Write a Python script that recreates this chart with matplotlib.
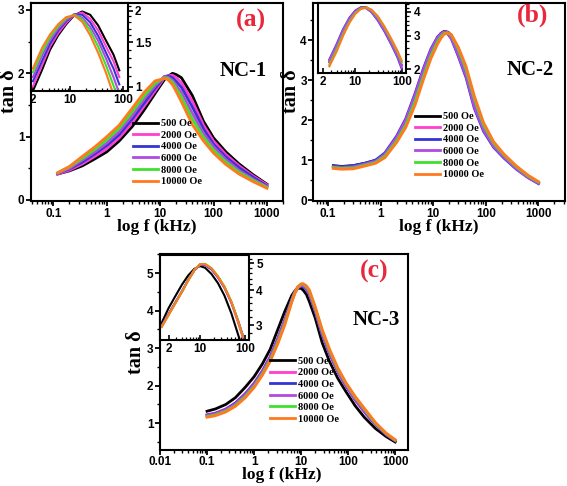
import numpy as np
import matplotlib
matplotlib.use("Agg")
import matplotlib.pyplot as plt
from matplotlib.ticker import LogLocator, MultipleLocator, NullFormatter

W, H = 567, 486
SERIF = "Liberation Serif"
plt.rcParams.update({
    "font.family": "Liberation Sans",
    "font.weight": "bold",
    "axes.linewidth": 1.5,
})

FIELDS = ["500 Oe", "2000 Oe", "4000 Oe", "6000 Oe", "8000 Oe", "10000 Oe"]
COLORS = ["#000000", "#ff3fcf", "#3434d2", "#b04ae0", "#3fe02c", "#ff7a1e"]

# ---- NC-1 (a) -------------------------------------------------------
F_A = [0.12, 0.2, 0.35, 0.6, 1, 1.7, 3, 5, 8, 12, 14, 17, 20, 25, 40, 65, 100, 170, 300, 550, 1000]
TAN_A = [
    [0.41, 0.46, 0.54, 0.65, 0.76, 0.93, 1.16, 1.42, 1.68, 1.90, 1.95, 2.00, 1.98, 1.93, 1.65, 1.24, 0.98, 0.76, 0.57, 0.40, 0.25],
    [0.41, 0.47, 0.57, 0.69, 0.81, 0.98, 1.22, 1.48, 1.72, 1.93, 1.96, 1.97, 1.93, 1.85, 1.56, 1.18, 0.93, 0.72, 0.54, 0.38, 0.24],
    [0.42, 0.49, 0.60, 0.73, 0.86, 1.03, 1.28, 1.53, 1.76, 1.95, 1.96, 1.93, 1.87, 1.78, 1.47, 1.12, 0.88, 0.68, 0.51, 0.36, 0.22],
    [0.42, 0.50, 0.63, 0.76, 0.90, 1.08, 1.33, 1.59, 1.80, 1.95, 1.94, 1.89, 1.81, 1.70, 1.37, 1.05, 0.84, 0.64, 0.47, 0.33, 0.21],
    [0.43, 0.52, 0.66, 0.80, 0.95, 1.13, 1.39, 1.64, 1.84, 1.93, 1.92, 1.86, 1.76, 1.63, 1.28, 0.99, 0.79, 0.60, 0.44, 0.31, 0.20],
    [0.43, 0.53, 0.69, 0.84, 1.00, 1.18, 1.45, 1.70, 1.88, 1.92, 1.90, 1.82, 1.71, 1.55, 1.19, 0.93, 0.74, 0.56, 0.41, 0.29, 0.185],
]
F_A_IN = [2, 3, 4.2, 6, 8.5, 12, 17, 24, 34, 48, 66, 85]
TAN_A_IN = [
    [0.96, 1.17, 1.40, 1.60, 1.77, 1.92, 1.99, 1.93, 1.75, 1.52, 1.34, 1.16],
    [1.00, 1.22, 1.44, 1.63, 1.79, 1.93, 1.97, 1.86, 1.67, 1.44, 1.26, 1.09],
    [1.05, 1.27, 1.48, 1.67, 1.82, 1.94, 1.93, 1.80, 1.59, 1.36, 1.18, 1.02],
    [1.09, 1.33, 1.53, 1.70, 1.84, 1.94, 1.88, 1.73, 1.52, 1.29, 1.09, 0.94],
    [1.14, 1.38, 1.57, 1.74, 1.87, 1.93, 1.85, 1.67, 1.44, 1.21, 1.01, 0.87],
    [1.18, 1.43, 1.61, 1.77, 1.89, 1.92, 1.81, 1.60, 1.36, 1.13, 0.93, 0.80],
]

# ---- NC-2 (b) -------------------------------------------------------
F_B = [0.125, 0.18, 0.3, 0.5, 0.8, 1.2, 2, 3, 4.5, 6.5, 9, 12, 14, 16, 19, 22, 30, 42, 60, 90, 140, 220, 380, 650, 1000]
TAN_B = [
    [0.86, 0.84, 0.86, 0.92, 0.99, 1.15, 1.55, 1.97, 2.58, 3.22, 3.72, 4.05, 4.17, 4.22, 4.20, 4.12, 3.72, 3.20, 2.45, 1.82, 1.38, 1.10, 0.80, 0.57, 0.43],
    [0.84, 0.82, 0.84, 0.90, 0.97, 1.14, 1.54, 1.96, 2.57, 3.21, 3.71, 4.04, 4.16, 4.21, 4.19, 4.11, 3.71, 3.19, 2.44, 1.82, 1.38, 1.10, 0.80, 0.57, 0.43],
    [0.85, 0.83, 0.86, 0.92, 1.00, 1.18, 1.60, 2.04, 2.67, 3.30, 3.78, 4.08, 4.17, 4.20, 4.15, 4.04, 3.59, 3.06, 2.30, 1.72, 1.32, 1.05, 0.77, 0.55, 0.41],
    [0.83, 0.81, 0.83, 0.90, 0.97, 1.15, 1.57, 2.01, 2.63, 3.26, 3.75, 4.06, 4.16, 4.20, 4.16, 4.05, 3.62, 3.10, 2.34, 1.75, 1.34, 1.07, 0.78, 0.55, 0.42],
    [0.81, 0.79, 0.80, 0.87, 0.94, 1.10, 1.48, 1.88, 2.47, 3.10, 3.61, 3.96, 4.09, 4.17, 4.18, 4.13, 3.77, 3.27, 2.54, 1.88, 1.42, 1.13, 0.83, 0.59, 0.45],
    [0.79, 0.77, 0.78, 0.85, 0.92, 1.06, 1.44, 1.82, 2.38, 3.02, 3.54, 3.90, 4.05, 4.15, 4.17, 4.14, 3.82, 3.34, 2.61, 1.94, 1.46, 1.15, 0.85, 0.61, 0.46],
]
F_B_IN = [2.8, 4, 5.5, 7.5, 10, 13, 17, 22, 30, 42, 60, 80, 98]
TAN_B_IN = [
    [2.18, 2.62, 3.15, 3.65, 4.02, 4.22, 4.24, 4.08, 3.72, 3.25, 2.75, 2.38, 2.10],
    [2.17, 2.61, 3.14, 3.64, 4.01, 4.21, 4.23, 4.07, 3.71, 3.24, 2.74, 2.37, 2.09],
    [2.25, 2.71, 3.25, 3.73, 4.07, 4.22, 4.19, 4.00, 3.62, 3.16, 2.67, 2.30, 2.01],
    [2.23, 2.68, 3.22, 3.70, 4.05, 4.21, 4.20, 4.02, 3.65, 3.19, 2.69, 2.33, 2.04],
    [2.11, 2.54, 3.06, 3.56, 3.95, 4.17, 4.22, 4.10, 3.77, 3.32, 2.82, 2.45, 2.18],
    [2.07, 2.48, 3.00, 3.51, 3.91, 4.14, 4.21, 4.12, 3.81, 3.35, 2.86, 2.49, 2.22],
]

# ---- NC-3 (c) -------------------------------------------------------
F_C = [0.1, 0.15, 0.25, 0.4, 0.65, 1, 1.5, 2.2, 3.2, 4.5, 6.3, 7.3, 8.5, 9.8, 11, 13, 15, 20, 28, 40, 60, 90, 140, 220, 380, 650, 1000]
TAN_C = [
    [1.32, 1.38, 1.50, 1.68, 1.96, 2.24, 2.58, 2.97, 3.50, 3.98, 4.40, 4.52, 4.59, 4.60, 4.55, 4.43, 4.24, 3.80, 3.15, 2.65, 2.20, 1.84, 1.47, 1.16, 0.86, 0.64, 0.50],
    [1.23, 1.27, 1.38, 1.54, 1.79, 2.07, 2.40, 2.78, 3.27, 3.76, 4.29, 4.50, 4.64, 4.68, 4.66, 4.57, 4.43, 3.98, 3.36, 2.85, 2.37, 1.98, 1.62, 1.30, 0.96, 0.69, 0.54],
    [1.21, 1.26, 1.37, 1.53, 1.78, 2.05, 2.38, 2.76, 3.25, 3.74, 4.28, 4.48, 4.61, 4.65, 4.63, 4.57, 4.45, 4.00, 3.38, 2.87, 2.39, 2.00, 1.64, 1.32, 0.97, 0.70, 0.54],
    [1.20, 1.25, 1.36, 1.51, 1.76, 2.03, 2.36, 2.74, 3.23, 3.72, 4.27, 4.48, 4.61, 4.67, 4.67, 4.59, 4.46, 4.02, 3.40, 2.89, 2.40, 2.01, 1.65, 1.33, 0.98, 0.71, 0.54],
    [1.18, 1.22, 1.32, 1.47, 1.71, 1.98, 2.31, 2.68, 3.16, 3.66, 4.24, 4.46, 4.62, 4.70, 4.71, 4.64, 4.52, 4.07, 3.47, 2.95, 2.45, 2.06, 1.70, 1.38, 1.00, 0.72, 0.55],
    [1.16, 1.20, 1.30, 1.45, 1.68, 1.95, 2.28, 2.65, 3.12, 3.62, 4.22, 4.45, 4.62, 4.71, 4.72, 4.66, 4.55, 4.10, 3.50, 2.98, 2.48, 2.08, 1.72, 1.40, 1.02, 0.73, 0.56],
]
F_C_IN = [1.4, 2, 2.8, 4, 5.5, 7.5, 10, 13, 18, 25, 35, 50, 70, 90]
TAN_C_IN = [
    [3.05, 3.45, 3.80, 4.20, 4.53, 4.78, 4.89, 4.82, 4.58, 4.25, 3.83, 3.30, 2.78, 2.45],
    [2.98, 3.29, 3.61, 3.98, 4.37, 4.73, 4.95, 4.94, 4.76, 4.45, 4.08, 3.60, 3.07, 2.70],
    [2.97, 3.28, 3.60, 3.97, 4.36, 4.72, 4.94, 4.93, 4.76, 4.46, 4.10, 3.62, 3.12, 2.75],
    [2.96, 3.27, 3.60, 3.97, 4.36, 4.73, 4.95, 4.95, 4.78, 4.47, 4.10, 3.62, 3.11, 2.74],
    [2.95, 3.26, 3.59, 3.96, 4.35, 4.73, 4.97, 4.98, 4.81, 4.50, 4.13, 3.64, 3.11, 2.73],
    [2.95, 3.26, 3.58, 3.95, 4.35, 4.73, 4.97, 4.97, 4.80, 4.49, 4.12, 3.63, 3.10, 2.72],
]


def px_box(x0, y0, x1, y1):
    """pixel box (left, top, right, bottom) -> figure fraction rect"""
    return [x0 / W, 1 - y1 / H, (x1 - x0) / W, (y1 - y0) / H]


def panel(fig, box, inbox, f, tan, f_in, tan_in, xlim, ylim, xticks, yticks,
          in_xlim, in_ylim, in_yticks, in_yminor, letter, letter_xy, name, name_xy,
          leg_xy, ylab_xy, xlab_xy):
    ax = fig.add_axes(box)
    for vals, c, lab in zip(tan, COLORS, FIELDS):
        ax.plot(f, vals, color=c, lw=2.0, label=lab, solid_joinstyle="round")
    ax.set_xscale("log")
    ax.set_xlim(*xlim)
    ax.set_ylim(*ylim)
    ax.set_xticks(xticks, [f"{t:g}" for t in xticks])
    ax.xaxis.set_minor_locator(LogLocator(base=10, subs=np.arange(2, 10)))
    ax.xaxis.set_minor_formatter(NullFormatter())
    ax.set_yticks(yticks, [f"{t:g}" for t in yticks])
    ax.yaxis.set_minor_locator(MultipleLocator(0.5))
    ax.tick_params(which="both", direction="out", labelsize=8.5, pad=1.2)
    ax.tick_params(which="major", length=3.5, width=1.3)
    ax.tick_params(which="minor", length=2.2, width=1.0)
    ax.set_xlabel("log f (kHz)", fontfamily=SERIF, fontsize=12.5, fontweight="bold")
    ax.set_ylabel("tan δ", fontfamily=SERIF, fontsize=14.5, fontweight="bold")
    ax.xaxis.set_label_coords(*xlab_xy)
    ax.yaxis.set_label_coords(*ylab_xy)
    ax.legend(loc="upper left", bbox_to_anchor=(leg_xy[0] / W, 1 - leg_xy[1] / H),
              bbox_transform=fig.transFigure, frameon=False,
              prop={"family": SERIF, "weight": "bold", "size": 7.5},
              handlelength=2.4, handletextpad=0.25, labelspacing=0.22,
              borderpad=0, borderaxespad=0)

    axi = fig.add_axes(inbox)
    for vals, c in zip(tan_in, COLORS):
        axi.plot(f_in, vals, color=c, lw=1.5, solid_joinstyle="round")
    axi.set_xscale("log")
    axi.set_yscale("log")
    axi.set_xlim(*in_xlim)
    axi.set_ylim(*in_ylim)
    axi.set_xticks([2, 10, 100], ["2", "10", "100"])
    axi.xaxis.set_minor_locator(LogLocator(base=10, subs=np.arange(2, 10)))
    axi.xaxis.set_minor_formatter(NullFormatter())
    axi.set_yticks(in_yticks, [f"{t:g}" for t in in_yticks])
    axi.set_yticks(in_yminor, minor=True)
    axi.yaxis.set_minor_formatter(NullFormatter())
    axi.yaxis.tick_right()
    axi.tick_params(axis="x", which="both", direction="in", labelsize=8.5, pad=2)
    axi.tick_params(axis="y", which="both", direction="out", labelsize=8.5, pad=1.5)
    axi.tick_params(which="major", length=3.5, width=1.2)
    axi.tick_params(which="minor", length=2, width=0.9)

    fig.text(letter_xy[0] / W, 1 - letter_xy[1] / H, letter, color="#e8283c",
             fontfamily=SERIF, fontweight="bold", fontsize=18.5, ha="center", va="center")
    fig.text(name_xy[0] / W, 1 - name_xy[1] / H, name, color="black",
             fontfamily=SERIF, fontweight="bold", fontsize=15, ha="center", va="center")


fig = plt.figure(figsize=(W / 100, H / 100), dpi=100)

panel(fig, px_box(31, 3, 283, 201), px_box(31, 3, 128, 91),
      F_A, TAN_A, F_A_IN, TAN_A_IN,
      (0.038, 2000), (-0.016, 3.11), [0.1, 1, 10, 100, 1000], [0, 1, 2, 3],
      (1.84, 124), (0.96, 2.15), [1, 1.5, 2],
      [1.1, 1.2, 1.3, 1.4, 1.6, 1.7, 1.8, 1.9, 2.1],
      "(a)", (251, 20), "NC-1", (243, 71), (133, 119),
      (-0.048, 0.553), (0.5, -0.092))

panel(fig, px_box(313.3, 3, 565, 201), px_box(318, 3, 406.5, 73),
      F_B, TAN_B, F_B_IN, TAN_B_IN,
      (0.052, 3200), (-0.025, 4.93), [0.1, 1, 10, 100, 1000], [0, 1, 2, 3, 4],
      (1.6, 124), (1.91, 4.46), [2, 3, 4],
      [2.2, 2.4, 2.6, 2.8, 3.2, 3.4, 3.6, 3.8, 4.2, 4.4],
      "(b)", (533, 15), "NC-2", (530, 70), (415, 112),
      (-0.05, 0.555), (0.5, -0.092))

panel(fig, px_box(160, 254, 408.3, 449.5), px_box(160, 255, 249.3, 340),
      F_C, TAN_C, F_C_IN, TAN_C_IN,
      (0.012, 1900), (0.30, 5.51), [0.01, 0.1, 1, 10, 100, 1000], [1, 2, 3, 4, 5],
      (1.29, 125), (2.65, 5.36), [3, 4, 5],
      [2.8, 3.2, 3.4, 3.6, 3.8, 4.2, 4.4, 4.6, 4.8, 5.2],
      "(c)", (374, 271.5), "NC-3", (376, 320), (270, 356.5),
      (-0.055, 0.496), (0.49, -0.092))

fig.savefig("out.png", dpi=100)
